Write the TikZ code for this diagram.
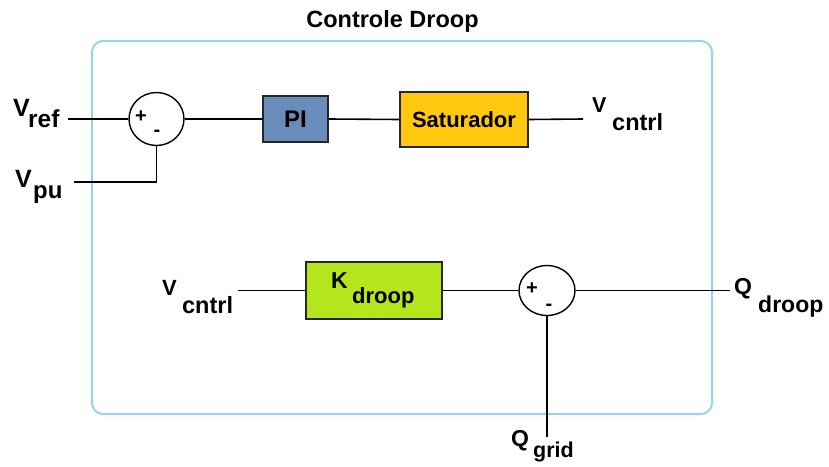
\documentclass[tikz,border=0pt]{standalone}
\usepackage{fontspec}
\setmainfont{Liberation Sans}
\usetikzlibrary{shapes.geometric}

\definecolor{framecol}{HTML}{93D5EA}
\definecolor{piblue}{HTML}{6A8CBB}
\definecolor{satgold}{HTML}{FFC80E}
\definecolor{klime}{HTML}{B5E61D}

% symbol with a lowered index: size, letter, gap, drop, index size, index
\newcommand{\sigsym}[6]{{\fontsize{#1}{#1}\selectfont #2}\hspace{#3}%
  \raisebox{-#4}{\fontsize{#5}{#5}\selectfont #6}}

\tikzset{
  wire/.style={line width=1.6pt, black},
  blockbox/.style={draw=black!85, line width=1.6pt, rectangle, inner sep=0pt},
  sumnode/.style={draw=black, line width=1.4pt, ellipse, inner sep=0pt},
  sign/.style={inner sep=0pt, font=\bfseries\fontsize{20}{20}\selectfont},
  lbl/.style={inner sep=0pt, anchor=base west, font=\bfseries},
}

\begin{document}
\begin{tikzpicture}[x=1pt,y=-1pt]
\useasboundingbox (0,0) rectangle (829,466);

% enclosing block and its title
\node[draw=framecol, line width=2pt, rounded corners=11pt, minimum width=620pt,
      minimum height=373pt, inner sep=0pt] (frame) at (402,227.5) {};
\node[lbl, anchor=base, font=\bfseries\fontsize{23.5}{23.5}\selectfont] (title)
      at (392.5,27) {Controle Droop};

% upper loop: voltage error -> PI -> saturator
\node[sumnode, minimum width=55pt, minimum height=53pt] (s1) at (156.5,119) {};
\node[sign] (s1p) at (141,116.5) {+};
\node[sign] (s1m) at (157,133) {-};
\node[blockbox, fill=piblue, minimum width=65pt, minimum height=46pt,
      font=\bfseries\fontsize{24}{24}\selectfont] (pi) at (295.5,119) {PI};
\node[blockbox, fill=satgold, minimum width=128pt, minimum height=55pt,
      font=\bfseries\fontsize{22}{22}\selectfont] (sat) at (464,119.5) {Saturador};

% lower loop: droop gain -> reactive power error
\node[blockbox, fill=klime, minimum width=136pt, minimum height=57pt] (kd) at (374,290.5) {};
\node[lbl] (kdtxt) at (331,288) {\sigsym{23}{K}{4.4pt}{15pt}{22}{droop}};
\node[sumnode, minimum width=56pt, minimum height=50pt] (s2) at (547,290.5) {};
\node[sign] (s2p) at (532,289) {+};
\node[sign] (s2m) at (549,307) {-};

% signal labels
\node[lbl] (vref) at (13,116) {\sigsym{25}{V}{-1.7pt}{11pt}{24.5}{ref}};
\node[lbl] (vpu) at (15,187) {\sigsym{25}{V}{1.3pt}{11pt}{24}{pu}};
\node[lbl] (vcout) at (592,112) {\sigsym{21.5}{V}{5.7pt}{18pt}{23.5}{cntrl}};
\node[lbl] (vcin) at (162,295) {\sigsym{22}{V}{5.3pt}{18pt}{23.5}{cntrl}};
\node[lbl] (qdroop) at (734,294) {\sigsym{23}{Q}{6.1pt}{18pt}{23}{droop}};
\node[lbl] (qgrid) at (511,446) {\sigsym{23}{Q}{4.1pt}{11pt}{21.5}{grid}};

% free wire ends
\coordinate (vrefend) at (68,119);
\coordinate (vpuend) at (74,182);
\coordinate (vcoutend) at (583,119);
\coordinate (vcinend) at (238,290.5);
\coordinate (qdend) at (730,290.5);
\coordinate (qgend) at (547,437);

% connections
\draw[wire] (vrefend) -- (s1.west);
\draw[wire] (vpuend) -| (s1.south);
\draw[wire] (s1.east) -- (pi.west);
\draw[wire] (pi.east) -- (sat.west);
\draw[wire] (sat.east) -- (vcoutend);
\draw[wire] (vcinend) -- (kd.west);
\draw[wire] (kd.east) -- (s2.west);
\draw[wire] (s2.east) -- (qdend);
\draw[wire] (s2.south) -- (qgend);
\end{tikzpicture}
\end{document}
